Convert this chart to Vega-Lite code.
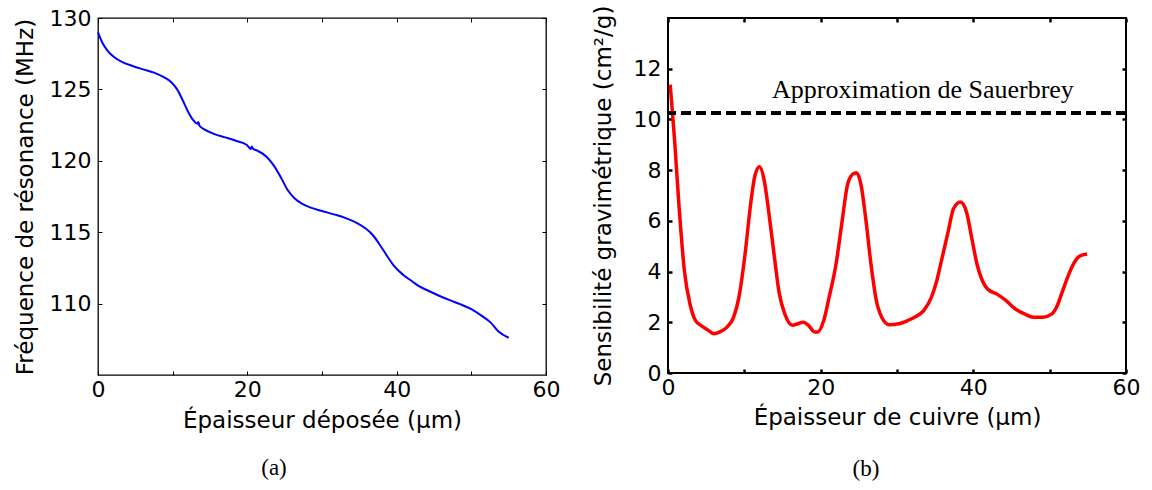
{
  "$schema": "https://vega.github.io/schema/vega-lite/v6.json",
  "padding": {"left": 13, "top": 4, "right": 0, "bottom": 0},
  "background": "white",
  "spacing": 30,
  "config": {
    "font": "DejaVu Sans",
    "axis": {
      "labelFont": "DejaVu Sans", "titleFont": "DejaVu Sans",
      "labelFontSize": 22, "titleFontSize": 23, "titleFontWeight": "normal",
      "labelColor": "black", "titleColor": "black",
      "grid": false, "domain": false, "tickColor": "black", "tickSize": 4, "offset": -4,
      "labelFlush": false, "labelOverlap": false
    },
    "title": {"font": "Liberation Serif", "fontSize": 23, "fontWeight": "normal", "color": "black"}
  },
  "hconcat": [
    {
      "width": 448, "height": 357,
      "view": {"stroke": "black", "strokeWidth": 1.3},
      "title": {"text": "(a)", "orient": "bottom", "anchor": "middle", "frame": "group", "dx": -48, "offset": 25},
      "data": {"values": [
        {"x": 0.0, "y": 129.0}, {"x": 0.57, "y": 128.28}, {"x": 1.29, "y": 127.70}, {"x": 2.24, "y": 127.23},
        {"x": 3.2, "y": 126.92}, {"x": 4.63, "y": 126.64}, {"x": 6.06, "y": 126.40}, {"x": 7.49, "y": 126.17},
        {"x": 8.93, "y": 125.82}, {"x": 9.88, "y": 125.47}, {"x": 10.6, "y": 125.0}, {"x": 11.3, "y": 124.29},
        {"x": 12.03, "y": 123.47}, {"x": 12.7, "y": 122.88}, {"x": 13.3, "y": 122.6}, {"x": 13.45, "y": 122.72},
        {"x": 13.6, "y": 122.45}, {"x": 14.18, "y": 122.22}, {"x": 15.6, "y": 121.87}, {"x": 17.04, "y": 121.64},
        {"x": 18.47, "y": 121.40}, {"x": 19.9, "y": 121.12}, {"x": 20.2, "y": 120.95}, {"x": 20.45, "y": 120.82},
        {"x": 20.6, "y": 121.0}, {"x": 20.75, "y": 120.84}, {"x": 21.3, "y": 120.72}, {"x": 22.53, "y": 120.30},
        {"x": 23.48, "y": 119.71}, {"x": 24.44, "y": 118.89}, {"x": 25.4, "y": 117.95}, {"x": 26.35, "y": 117.36},
        {"x": 27.3, "y": 117.0}, {"x": 28.5, "y": 116.72}, {"x": 29.9, "y": 116.5}, {"x": 31.6, "y": 116.25},
        {"x": 33.27, "y": 115.97}, {"x": 34.7, "y": 115.64}, {"x": 35.9, "y": 115.24}, {"x": 36.85, "y": 114.77},
        {"x": 37.8, "y": 114.07}, {"x": 38.76, "y": 113.3}, {"x": 39.7, "y": 112.6}, {"x": 40.9, "y": 112.0},
        {"x": 42.1, "y": 111.55}, {"x": 43.05, "y": 111.2}, {"x": 44.25, "y": 110.90}, {"x": 45.68, "y": 110.55},
        {"x": 47.1, "y": 110.24}, {"x": 48.5, "y": 109.96}, {"x": 50.0, "y": 109.61}, {"x": 51.4, "y": 109.14},
        {"x": 52.6, "y": 108.67}, {"x": 53.56, "y": 108.08}, {"x": 55.0, "y": 107.61}
      ]},
      "layer": [
        {
          "mark": {"type": "line", "color": "#0000ff", "strokeWidth": 2, "interpolate": "monotone"},
          "encoding": {
            "x": {"field": "x", "type": "quantitative", "scale": {"domain": [0, 60], "nice": false, "zero": false},
              "axis": {"orient": "bottom", "values": [0, 10, 20, 30, 40, 50, 60], "labelExpr": "datum.value % 20 == 0 ? datum.label : ''",
                "labelPadding": 4, "title": "Épaisseur déposée (µm)", "titlePadding": 9}},
            "y": {"field": "y", "type": "quantitative", "scale": {"domain": [105, 130], "nice": false, "zero": false},
              "axis": {"orient": "left", "values": [110, 115, 120, 125, 130], "labelPadding": 7, "title": "Fréquence de résonance (MHz)", "titlePadding": 12}}
          }
        },
        {
          "mark": {"type": "line", "strokeOpacity": 0},
          "encoding": {
            "x": {"field": "x", "type": "quantitative", "axis": {"orient": "top", "values": [0, 10, 20, 30, 40, 50, 60], "labels": false, "title": null}},
            "y": {"field": "y", "type": "quantitative", "axis": {"orient": "right", "values": [110, 115, 120, 125, 130], "labels": false, "title": null}}
          }
        }
      ],
      "resolve": {"axis": {"x": "independent", "y": "independent"}}
    },
    {
      "width": 458, "height": 355,
      "view": {"stroke": "black", "strokeWidth": 2},
      "title": {"text": "(b)", "orient": "bottom", "anchor": "middle", "frame": "group", "dx": -31, "offset": 29},
      "layer": [
        {
          "data": {"values": [
            {"x": 0.29, "y": 11.37}, {"x": 0.86, "y": 9.2}, {"x": 1.44, "y": 6.6}, {"x": 2.16, "y": 4.0},
            {"x": 2.9, "y": 2.7}, {"x": 3.6, "y": 2.07}, {"x": 4.3, "y": 1.88}, {"x": 5.2, "y": 1.7},
            {"x": 6.0, "y": 1.55}, {"x": 6.8, "y": 1.62}, {"x": 7.7, "y": 1.8}, {"x": 8.6, "y": 2.2},
            {"x": 9.3, "y": 3.0}, {"x": 10.1, "y": 4.7}, {"x": 10.8, "y": 6.6}, {"x": 11.4, "y": 7.8},
            {"x": 12.0, "y": 8.13}, {"x": 12.6, "y": 7.6}, {"x": 13.2, "y": 6.35}, {"x": 13.9, "y": 4.66},
            {"x": 14.6, "y": 3.1}, {"x": 15.3, "y": 2.33}, {"x": 16.3, "y": 1.88}, {"x": 17.0, "y": 1.94},
            {"x": 17.7, "y": 2.0}, {"x": 18.4, "y": 1.88}, {"x": 19.2, "y": 1.62}, {"x": 19.6, "y": 1.62},
            {"x": 20.4, "y": 2.07}, {"x": 21.1, "y": 2.98}, {"x": 22.0, "y": 4.27}, {"x": 22.8, "y": 5.96},
            {"x": 23.5, "y": 7.4}, {"x": 24.2, "y": 7.84}, {"x": 24.7, "y": 7.9}, {"x": 25.3, "y": 7.4},
            {"x": 25.9, "y": 6.1}, {"x": 26.6, "y": 4.27}, {"x": 27.3, "y": 2.85}, {"x": 28.0, "y": 2.2},
            {"x": 29.0, "y": 1.9}, {"x": 30.2, "y": 1.94}, {"x": 31.4, "y": 2.07}, {"x": 32.3, "y": 2.2},
            {"x": 33.5, "y": 2.46}, {"x": 34.5, "y": 2.98}, {"x": 35.2, "y": 3.63}, {"x": 35.9, "y": 4.53},
            {"x": 36.7, "y": 5.57}, {"x": 37.4, "y": 6.48}, {"x": 38.3, "y": 6.74}, {"x": 39.1, "y": 6.35},
            {"x": 39.8, "y": 5.31}, {"x": 40.5, "y": 4.27}, {"x": 41.2, "y": 3.63}, {"x": 41.9, "y": 3.3},
            {"x": 43.1, "y": 3.11}, {"x": 44.3, "y": 2.85}, {"x": 45.5, "y": 2.53}, {"x": 46.7, "y": 2.33},
            {"x": 47.9, "y": 2.2}, {"x": 49.1, "y": 2.2}, {"x": 50.3, "y": 2.33}, {"x": 51.0, "y": 2.66},
            {"x": 51.7, "y": 3.24}, {"x": 52.5, "y": 3.89}, {"x": 53.2, "y": 4.34}, {"x": 53.9, "y": 4.6},
            {"x": 54.9, "y": 4.69}
          ]},
          "mark": {"type": "line", "color": "#ff0000", "strokeWidth": 3.5, "interpolate": "monotone"},
          "encoding": {
            "x": {"field": "x", "type": "quantitative", "scale": {"domain": [0, 60], "nice": false, "zero": false},
              "axis": {"orient": "bottom", "values": [0, 10, 20, 30, 40, 50, 60], "labelExpr": "datum.value % 20 == 0 ? datum.label : ''",
                "labelPadding": 4, "title": "Épaisseur de cuivre (µm)", "titlePadding": 8, "tickWidth": 2.5}},
            "y": {"field": "y", "type": "quantitative", "scale": {"domain": [0, 14], "nice": false, "zero": false},
              "axis": {"orient": "left", "values": [0, 2, 4, 6, 8, 10, 12], "labelPadding": 7, "title": "Sensibilité gravimétrique (cm²/g)", "titlePadding": 18, "tickWidth": 2.5}}
          }
        },
        {
          "data": {"values": [{"y": 10.25}]},
          "mark": {"type": "rule", "color": "black", "strokeWidth": 4, "strokeDash": [10, 5]},
          "encoding": {"y": {"field": "y", "type": "quantitative", "axis": null}}
        },
        {
          "data": {"values": [{"x": 33.4, "y": 11.15, "label": "Approximation de Sauerbrey"}]},
          "mark": {"type": "text", "font": "Liberation Serif", "fontSize": 26, "color": "black", "align": "center", "baseline": "middle"},
          "encoding": {
            "x": {"field": "x", "type": "quantitative", "axis": null},
            "y": {"field": "y", "type": "quantitative", "axis": null},
            "text": {"field": "label"}
          }
        },
        {
          "data": {"values": [{"x": 0, "y": 0}, {"x": 60, "y": 14}]},
          "mark": {"type": "point", "opacity": 0},
          "encoding": {
            "x": {"field": "x", "type": "quantitative", "axis": {"orient": "top", "values": [0, 10, 20, 30, 40, 50, 60], "labels": false, "title": null, "tickWidth": 2.5}},
            "y": {"field": "y", "type": "quantitative", "axis": {"orient": "right", "values": [0, 2, 4, 6, 8, 10, 12], "labels": false, "title": null, "tickWidth": 2.5}}
          }
        }
      ],
      "resolve": {"axis": {"x": "independent", "y": "independent"}}
    }
  ]
}
